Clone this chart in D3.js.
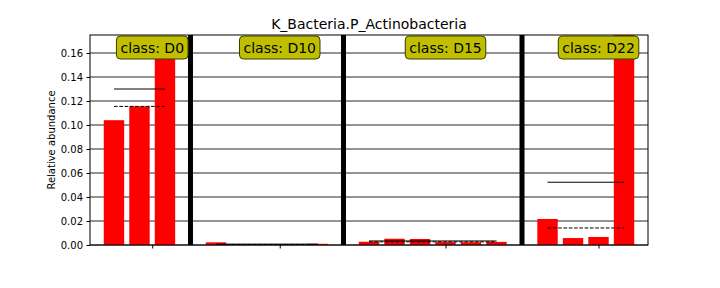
<!DOCTYPE html>
<html>
<head>
<meta charset="utf-8">
<script src="https://cdnjs.cloudflare.com/ajax/libs/d3/7.8.5/d3.min.js"></script>
<style>
  html, body { margin: 0; padding: 0; background: #fff; }
  svg { display: block; font-family: "DejaVu Sans", sans-serif; }
</style>
</head>
<body>
<svg id="chart" width="720" height="288"></svg>
<script>
// ---- data ----
const title = "K_Bacteria.P_Actinobacteria";
const yLabel = "Relative abundance";
const classes = ["D0", "D10", "D15", "D22"];
const valuesD0 = [0.104, 0.1155, 0.1705];
const valuesD10 = [0.0022, 0.0002, 0.0001, 0.0002, 0.0010];
const valuesD15 = [0.0027, 0.0052, 0.0050, 0.0024, 0.0023, 0.0026];
const valuesD22 = [0.0217, 0.0058, 0.0067, 0.175];
const yTicks = [0.00, 0.02, 0.04, 0.06, 0.08, 0.10, 0.12, 0.14, 0.16];
const seriesValues = [valuesD0, valuesD10, valuesD15, valuesD22];

(function () {
// ---- layout ----
const svg = d3.select("#chart");
const mLeft = 90, mRight = 648, mTop = 35, mBottom = 245;

// slot positions: samples in sequence, one empty slot between classes
const groups = [];
let slot = 0;
seriesValues.forEach((vals, ci) => {
  const start = slot;
  const items = vals.map((v, i) => ({ cls: classes[ci], v, pos: start + i }));
  slot += vals.length;
  groups.push({ cls: classes[ci], items, start, end: slot - 1,
                mean: d3.mean(vals), median: d3.median(vals) });
  slot += 1;
});
const lastSlot = slot - 2;

const x = d3.scaleLinear().domain([-0.94, lastSlot + 0.94]).range([mLeft, mRight]);
const y = d3.scaleLinear().domain([0, 0.175]).range([mBottom, mTop]);
const slotW = x(1) - x(0);
const barW = slotW * 0.8;

svg.append("defs").append("clipPath").attr("id", "clip")
  .append("rect").attr("x", mLeft).attr("y", mTop)
  .attr("width", mRight - mLeft).attr("height", mBottom - mTop);

// grid
svg.append("g").selectAll("line").data(yTicks).join("line")
  .attr("x1", mLeft).attr("x2", mRight)
  .attr("y1", d => y(d)).attr("y2", d => y(d))
  .attr("stroke", "#262626").attr("stroke-width", 1);

const plot = svg.append("g").attr("clip-path", "url(#clip)");

// bars
plot.selectAll("rect.bar").data(groups.flatMap(g => g.items)).join("rect")
  .attr("class", "bar")
  .attr("x", d => x(d.pos) - barW / 2)
  .attr("width", barW)
  .attr("y", d => y(d.v))
  .attr("height", d => y(0) - y(d.v))
  .attr("fill", "#ff0000");

// mean (solid) and median (dashed)
plot.selectAll("line.mean").data(groups).join("line")
  .attr("class", "mean")
  .attr("x1", d => x(d.start)).attr("x2", d => x(d.end))
  .attr("y1", d => y(d.mean)).attr("y2", d => y(d.mean))
  .attr("stroke", "#000").attr("stroke-width", 1);
plot.selectAll("line.median").data(groups).join("line")
  .attr("class", "median")
  .attr("x1", d => x(d.start)).attr("x2", d => x(d.end))
  .attr("y1", d => y(d.median)).attr("y2", d => y(d.median))
  .attr("stroke", "#000").attr("stroke-width", 1)
  .attr("stroke-dasharray", "3.7,1.6");

// class separators
svg.append("g").selectAll("line").data(groups.slice(1)).join("line")
  .attr("x1", d => x(d.start - 1)).attr("x2", d => x(d.start - 1))
  .attr("y1", mTop).attr("y2", mBottom)
  .attr("stroke", "#000").attr("stroke-width", 5);

// spines
svg.append("rect").attr("x", mLeft).attr("y", mTop)
  .attr("width", mRight - mLeft).attr("height", mBottom - mTop)
  .attr("fill", "none").attr("stroke", "#000").attr("stroke-width", 1);

// y axis
const yAxis = svg.append("g").attr("transform", `translate(${mLeft},0)`)
  .call(d3.axisLeft(y).tickValues(yTicks).tickFormat(d3.format(".2f")).tickSizeOuter(0).tickSize(3.5).tickPadding(3.5));
yAxis.select(".domain").remove();
yAxis.selectAll("text").attr("font-size", 10).attr("fill", "#000").attr("font-family", "DejaVu Sans");
yAxis.selectAll("line").attr("stroke", "#000");

// x ticks (no labels)
const xTickPos = groups.map(g => (g.start + g.end) / 2 + 0.5);
const xAxis = svg.append("g").attr("transform", `translate(0,${mBottom})`)
  .call(d3.axisBottom(x).tickValues(xTickPos).tickFormat("").tickSizeOuter(0).tickSize(3.5));
xAxis.select(".domain").remove();
xAxis.selectAll("line").attr("stroke", "#000");

// class labels
const lab = svg.append("g").selectAll("g").data(groups).join("g")
  .attr("transform", (d, i) => `translate(${x(xTickPos[i])},47.5)`);
lab.append("text").attr("class", "cl")
  .attr("text-anchor", "middle").attr("dy", "0.36em")
  .attr("font-size", 14).attr("fill", "#000")
  .text(d => "class: " + d.cls);
lab.each(function() {
  const g = d3.select(this);
  const bb = g.select("text").node().getBBox();
  g.insert("rect", "text")
    .attr("x", bb.x - 4).attr("y", -11.5)
    .attr("width", bb.width + 8).attr("height", 23)
    .attr("rx", 4).attr("ry", 4)
    .attr("fill", "#bfbf00").attr("stroke", "#3a3a00").attr("stroke-width", 1);
});

// title & y label
svg.append("text").attr("x", (mLeft + mRight) / 2).attr("y", 29)
  .attr("text-anchor", "middle").attr("font-size", 14).attr("fill", "#000")
  .text(title);
svg.append("text").attr("transform", `translate(55,${(mTop + mBottom) / 2}) rotate(-90)`)
  .attr("text-anchor", "middle").attr("font-size", 10).attr("fill", "#000")
  .text(yLabel);
})();
</script>
</body>
</html>
